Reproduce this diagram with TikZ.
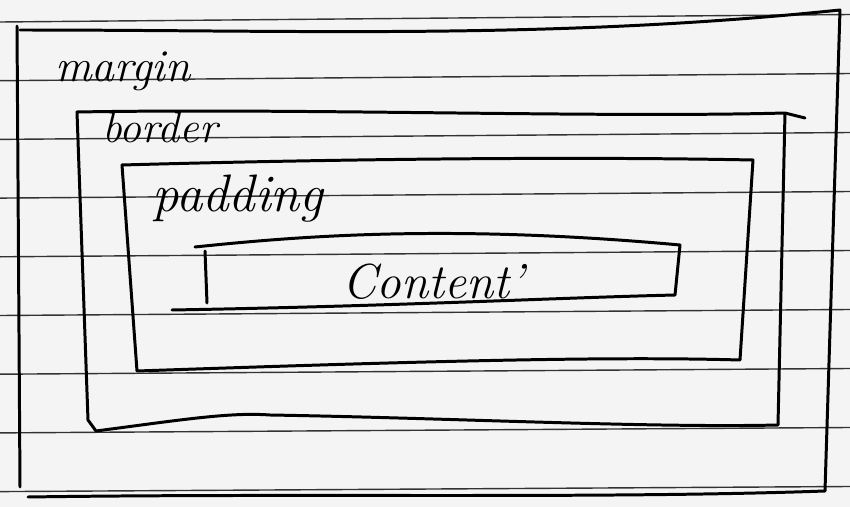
\documentclass[tikz,border=0pt]{standalone}
\usepackage{tikz}
\usetikzlibrary{positioning}

\begin{document}
\begin{tikzpicture}[
    x=0.02cm, y=-0.02cm,
    paper/.style={fill=gray!9, draw=none},
    rule/.style={draw=black!80, line width=0.8pt},
    pen/.style={draw=black, line width=1.7pt, line join=round, line cap=round},
    hand/.style={inner sep=0pt, anchor=base west, font=\itshape}
]
\fill[paper] (0,0) rectangle (850,507);
\useasboundingbox (0,0) rectangle (850,507);

\foreach \k in {0,...,8}
    \draw[rule] (0,{22+58.7*\k}) -- (850,{14.5+59*\k});

% margin
\draw[pen] (20,30) .. controls (300,30) and (550,40) .. (840,10) -- (825,491)
    .. controls (600,499) and (300,493) .. (28,497);
\draw[pen] (17,26) -- (20,487);

% border
\draw[pen] (805,118) -- (785,113) .. controls (600,118) and (300,108) .. (77,112)
    -- (88,420) -- (96,431) .. controls (180,420) and (230,412) .. (270,415)
    .. controls (450,418) and (650,428) .. (778,425) -- (785,113);

% padding
\draw[pen] (122,165) .. controls (300,160) and (550,156) .. (753,160) -- (740,360)
    .. controls (600,356) and (400,362) .. (137,371) -- cycle;

% content
\draw[pen] (195,247) .. controls (300,236) and (450,224) .. (680,245) -- (675,295)
    .. controls (550,298) and (400,306) .. (172,310);
\draw[pen] (205,251) -- (207,303);

\node[hand, font=\fontsize{26}{28}\selectfont\itshape] (margin) at (55,81) {margin};
\node[hand, font=\fontsize{25}{27}\selectfont\itshape] (border) at (102,142) {border};
\node[hand, font=\fontsize{30}{32}\selectfont\itshape] (padding) at (152,211) {padding};
\node[hand, font=\fontsize{28}{30}\selectfont\itshape] (content) at (342,298) {Content'};
\end{tikzpicture}
\end{document}
